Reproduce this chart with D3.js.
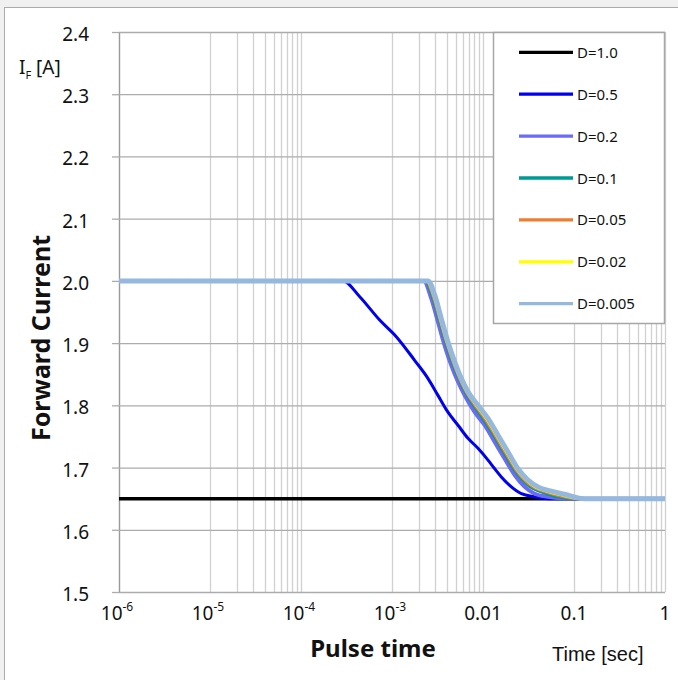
<!DOCTYPE html>
<html>
<head>
<meta charset="utf-8">
<script src="https://cdn.jsdelivr.net/npm/d3@7"></script>
<style>
  body { margin: 0; background: #f0f0f0; }
  svg { display: block; }
</style>
</head>
<body>
<svg id="chart" width="678" height="680"></svg>
<script>
// ---- data ----
let seriesNames = ["D=1.0", "D=0.5", "D=0.2", "D=0.1", "D=0.05", "D=0.02", "D=0.005"];
let seriesColors = ["#000000", "#0000f0", "#6b6bf5", "#009a96", "#ed7d31", "#ffff00", "#95b8de"];
let seriesWidths = [3.5, 3, 4, 3, 3, 3, 5];

let tD10 = [1e-6, 1];
let iD10 = [1.65, 1.65];

let tD05 = [1e-6, 2.89e-4, 4.42e-4, 7.32e-4, 1.12e-3, 1.78e-3, 2.49e-3, 3.20e-3, 4.12e-3, 5.31e-3, 6.84e-3, 8.81e-3, 0.01135, 0.01345, 0.0159, 0.0205, 0.0264, 0.037, 0.0514, 1];
let iD05 = [2.0, 2.0, 1.9745, 1.937, 1.910, 1.872, 1.843, 1.816, 1.789, 1.768, 1.747, 1.731, 1.712, 1.698, 1.685, 1.669, 1.658, 1.653, 1.650, 1.650];

let tD02 = [1e-6, 2.23e-3, 2.71e-3, 3.20e-3, 3.79e-3, 4.49e-3, 5.31e-3, 6.29e-3, 8.11e-3, 0.01044, 0.01345, 0.01732, 0.0223, 0.0287, 0.037, 0.0518, 0.09, 1];
let iD02 = [2.0, 2.0, 1.971, 1.934, 1.896, 1.864, 1.838, 1.816, 1.789, 1.768, 1.741, 1.714, 1.688, 1.669, 1.658, 1.653, 1.650, 1.650];

let tD01 = [1e-6, 2.33e-3, 2.74e-3, 3.27e-3, 3.86e-3, 4.56e-3, 5.42e-3, 6.33e-3, 7.88e-3, 9.97e-3, 0.01307, 0.01684, 0.02175, 0.02716, 0.03284, 0.04135, 0.0517, 0.1, 1];
let tD005 = [1e-6, 2.38e-3, 2.81e-3, 3.34e-3, 3.95e-3, 4.67e-3, 5.53e-3, 6.50e-3, 8.17e-3, 0.01041, 0.01355, 0.01745, 0.02258, 0.0285, 0.03518, 0.04574, 0.0595, 0.11, 1];
let tD002 = [1e-6, 2.43e-3, 2.88e-3, 3.41e-3, 4.03e-3, 4.78e-3, 5.66e-3, 6.67e-3, 8.48e-3, 0.01087, 0.01407, 0.01812, 0.0234, 0.02983, 0.03755, 0.0506, 0.0686, 0.12, 1];
let tD0005 = [1e-6, 2.49e-3, 2.95e-3, 3.49e-3, 4.12e-3, 4.89e-3, 5.79e-3, 6.84e-3, 8.81e-3, 0.01135, 0.01461, 0.01883, 0.02424, 0.03123, 0.0402, 0.0564, 0.079, 0.13, 1];
// the four low-duty curves share the same current levels
let iLow = [2.0, 2.0, 1.977, 1.939, 1.902, 1.870, 1.843, 1.822, 1.800, 1.779, 1.752, 1.725, 1.698, 1.680, 1.669, 1.662, 1.657, 1.650, 1.650];

let seriesT = [tD10, tD05, tD02, tD01, tD005, tD002, tD0005];
let seriesI = [iD10, iD05, iD02, iLow, iLow, iLow, iLow];

let yTicks = [1.5, 1.6, 1.7, 1.8, 1.9, 2.0, 2.1, 2.2, 2.3, 2.4];
let xTicks = [1e-6, 1e-5, 1e-4, 1e-3, 1e-2, 1e-1, 1];
let xTickBase = ["10", "10", "10", "10", "0.01", "0.1", "1"];
let xTickSup = ["-6", "-5", "-4", "-3", "", "", ""];
let minorDecades = [1e-5, 1e-3, 1e-1]; // only these decades carry minor gridlines

// ---- layout ----
let svg = d3.select("#chart"),
    margin = {top: 32, right: 13, bottom: 88, left: 119},
    width = +svg.attr("width") - margin.left - margin.right,
    height = +svg.attr("height") - margin.top - margin.bottom;

svg.append("rect").attr("width", 678).attr("height", 680).attr("fill", "#f0f0f0");
svg.append("rect")
    .attr("x", 4.5).attr("y", 7.5).attr("width", 720).attr("height", 720)
    .attr("fill", "#fff").attr("stroke", "#ababab");

let x = d3.scaleLog().domain([1e-6, 1]).range([0, width]);
let y = d3.scaleLinear().domain([1.5, 2.4]).range([height, 0]);

let g = svg.append("g").attr("transform", "translate(" + margin.left + "," + margin.top + ")");

// vertical gridlines
let minorTicks = [];
minorDecades.forEach(function(dec) {
  for (let k = 2; k <= 9; k++) minorTicks.push(k * dec);
});
g.append("g").selectAll("line")
  .data(minorTicks.concat(xTicks))
  .enter().append("line")
    .attr("x1", function(d) { return Math.round(x(d)) + 0.5; })
    .attr("x2", function(d) { return Math.round(x(d)) + 0.5; })
    .attr("y1", 0).attr("y2", height)
    .attr("stroke", "#d0d0d0").attr("stroke-width", 1.3);

// horizontal gridlines + y axis
let yAxis = g.append("g")
    .call(d3.axisLeft(y).tickValues(yTicks).tickSize(7).tickSizeOuter(0).tickPadding(23)
      .tickFormat(d3.format(".1f")));
yAxis.selectAll(".tick line").clone()
    .attr("x2", width).attr("stroke", "#acacac").attr("stroke-width", 1.3);
yAxis.selectAll(".tick line").attr("stroke", "#acacac").attr("stroke-width", 1.3);
yAxis.select(".domain").attr("stroke", "#9a9a9a").attr("stroke-width", 1.3);
yAxis.selectAll(".tick text")
    .attr("font-family", "Noto Sans").attr("font-size", 19).attr("fill", "#111")
    .attr("dy", null).attr("y", 8.5);

// x tick labels
let xl = g.append("g").selectAll("text")
  .data(xTicks)
  .enter().append("text")
    .attr("x", function(d, i) { return x(d) - (xTickSup[i] ? 2 : 0); })
    .attr("y", height + 28)
    .attr("text-anchor", "middle")
    .attr("font-family", "Noto Sans").attr("font-size", 19).attr("fill", "#111");
xl.append("tspan").text(function(d, i) { return xTickBase[i]; });
xl.append("tspan")
    .attr("font-size", 12).attr("dy", -9)
    .text(function(d, i) { return xTickSup[i]; });

// series lines
let line = d3.line()
    .x(function(d) { return x(d[0]); })
    .y(function(d) { return y(d[1]); })
    .curve(d3.curveMonotoneX);

g.append("g").selectAll("path")
  .data(seriesNames)
  .enter().append("path")
    .attr("fill", "none")
    .attr("stroke", function(d, i) { return seriesColors[i]; })
    .attr("stroke-width", function(d, i) { return seriesWidths[i]; })
    .attr("stroke-linejoin", "round")
    .attr("d", function(d, i) {
      return line(seriesT[i].map(function(t, j) { return [t, seriesI[i][j]]; }));
    });

// legend
let legend = svg.append("g");
legend.append("rect")
    .attr("x", 493.5).attr("y", 32.5).attr("width", 171).attr("height", 291)
    .attr("fill", "#fff").attr("stroke", "#a6a6a6").attr("stroke-width", 1.5);
let item = legend.selectAll(".item")
  .data(seriesNames)
  .enter().append("g")
    .attr("transform", function(d, i) { return "translate(0," + (52.3 + i * 41.9) + ")"; });
item.append("line")
    .attr("x1", 519).attr("x2", 573)
    .attr("stroke", function(d, i) { return seriesColors[i]; })
    .attr("stroke-width", 3.3);
item.append("text")
    .attr("x", 577).attr("y", 5.5)
    .attr("font-family", "Noto Sans").attr("font-size", 15).attr("fill", "#111")
    .text(function(d) { return d; });

// axis titles
let yUnit = svg.append("text")
    .attr("x", 19).attr("y", 74)
    .attr("font-family", "Noto Sans").attr("font-size", 19).attr("fill", "#111");
yUnit.append("tspan").text("I");
yUnit.append("tspan").attr("font-size", 11).attr("dy", 5).text("F");
yUnit.append("tspan").attr("dy", -5).text(" [A]");

svg.append("text")
    .attr("transform", "translate(50,338) rotate(-90)")
    .attr("text-anchor", "middle")
    .attr("font-family", "Noto Sans").attr("font-weight", "bold").attr("font-size", 25)
    .attr("fill", "#111")
    .text("Forward Current");

svg.append("text")
    .attr("x", 373).attr("y", 657)
    .attr("text-anchor", "middle")
    .attr("font-family", "Noto Sans").attr("font-weight", "bold").attr("font-size", 24)
    .attr("fill", "#111")
    .text("Pulse time");

svg.append("text")
    .attr("x", 552).attr("y", 661)
    .attr("font-family", "Liberation Sans").attr("font-size", 20).attr("fill", "#111")
    .text("Time [sec]");
</script>
</body>
</html>
